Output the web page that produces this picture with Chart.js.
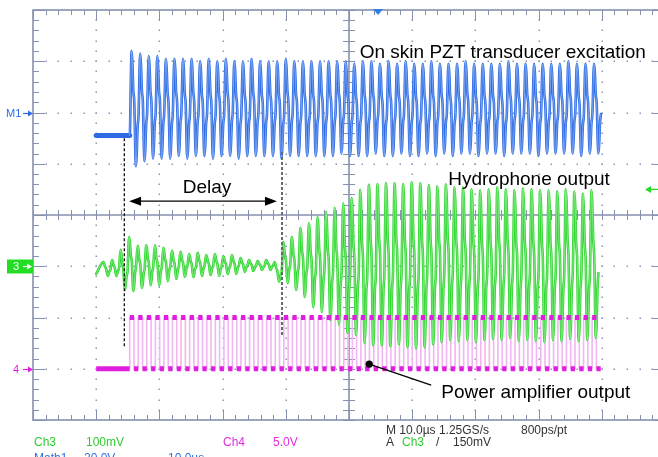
<!DOCTYPE html>
<html>
<head>
<meta charset="utf-8">
<title>Burst delay measurement</title>
<script src="https://cdn.jsdelivr.net/npm/chart.js@4.4.1/dist/chart.umd.min.js"></script>
<style>
  html, body { margin: 0; padding: 0; background: #fff; overflow: hidden; }
  canvas { display: block; }
</style>
</head>
<body>
<canvas id="scope" width="672" height="457"></canvas>
<script>
// timebase 10 us/div over 10 divisions, 8 vertical divisions
const TIME_SPAN = 100;      // us
const PERIOD = 1.355;       // us, carrier period
const RECORD_START = 10;    // us, first acquired sample
const BURST_START = 15.3;   // us, amplifier gate opens

// Math1, 20 V/div, offset +2 div: idle level and per-cycle peak / trough (V)
const mathIdle = -9;
const mathPeak = [24, 23, 22, 22, 21, 21, 21, 21, 20, 21,
                  20, 21, 20, 20, 21, 20, 20, 20, 21, 20,
                  20, 20, 20, 20, 20, 20, 19, 20, 20, 19,
                  20, 19, 20, 19, 19, 20, 19, 19, 19, 20,
                  19, 19, 19, 19, 20, 19, 19, 19, 19, 19,
                  19, 20, 19, 19, 19];
const mathTrough = [-21, -19, -18, -18, -18, -17, -18, -17, -17, -18,
                    -17, -17, -18, -17, -17, -17, -17, -18, -17, -17,
                    -17, -17, -17, -17, -16, -17, -17, -17, -16, -17,
                    -17, -16, -17, -17, -16, -17, -16, -17, -16, -16,
                    -17, -16, -16, -17, -16, -16, -16, -17, -16, -16,
                    -16, -16, -17, -16, -16];

// Ch3 hydrophone, 100 mV/div, offset -1 div: per-cycle peak / trough (mV)
const ch3FirstPeak = 11.14; // us
const ch3Peak = [8, 12, 32, 57, 40, 41, 41, 36, 30, 28,
                 24, 26, 22, 24, 20, 22, 16, 12, 10, 12,
                 8, 47, 57, 75, 84, 96, 106, 114, 123, 133,
                 149, 159, 160, 162, 162, 160, 164, 162, 158, 156,
                 160, 154, 154, 150, 148, 150, 154, 150, 148, 152,
                 150, 148, 148, 146, 150, 146, 142, 148];
const ch3Trough = [-19, -19, -46, -48, -42, -37, -37, -29, -25, -21,
                   -21, -19, -17, -19, -15, -15, -11, -9, -7, -7,
                   -30, -33, -46, -60, -80, -89, -105, -114, -130, -134,
                   -150, -154, -154, -156, -152, -158, -160, -158, -152, -148,
                   -144, -146, -144, -148, -144, -142, -144, -140, -146, -144,
                   -146, -148, -144, -146, -142, -146, -144, -140];

// Ch4 power amplifier, 5 V/div, offset -3 div
const ch4Low = 0;
const ch4High = 5;
const ch4Cycles = 55;

// one carrier cycle starting at the peak: phase and level relative to the swing
const cyclePhase = [0, 0.09, 0.2, 0.31, 0.5, 0.59, 0.7, 0.81];
const cycleLevel = [1, 0.82, 0.32, 0.12, -1, -0.82, -0.32, -0.12];

const mathDiv = v => 2 + v / 20;
const ch3Div = mv => -1 + mv / 100;
const ch4Div = v => -3 + v / 5;

function cycles(t0, peaks, troughs, toDiv) {
  const pts = [];
  peaks.forEach((pk, k) => {
    const mid = (pk + troughs[k]) / 2, half = (pk - troughs[k]) / 2;
    cyclePhase.forEach((ph, j) => {
      pts.push({ x: t0 + (k + ph) * PERIOD, y: toDiv(mid + cycleLevel[j] * half) });
    });
  });
  return pts;
}

const mathTrace = [
  { x: RECORD_START, y: mathDiv(mathIdle) },
  { x: BURST_START, y: mathDiv(mathIdle) },
  ...cycles(BURST_START + 0.3, mathPeak, mathTrough, mathDiv)
];

const ch3Trace = [
  { x: RECORD_START, y: ch3Div(-15) },
  ...cycles(ch3FirstPeak, ch3Peak, ch3Trough, ch3Div)
];

const ch4Trace = [
  { x: RECORD_START, y: ch4Div(ch4Low) },
  { x: BURST_START, y: ch4Div(ch4Low) }
];
for (let k = 0; k < ch4Cycles; k++) {
  const t = BURST_START + k * PERIOD;
  ch4Trace.push(
    { x: t, y: ch4Div(ch4High) }, { x: t + PERIOD / 2, y: ch4Div(ch4High) },
    { x: t + PERIOD / 2, y: ch4Div(ch4Low) }, { x: t + PERIOD, y: ch4Div(ch4Low) }
  );
}

const flat = ctx => ctx.p0.parsed.y === ctx.p1.parsed.y;

const BLUE = '#2d6ce4', GREEN = '#2fd62f', MAGENTA = '#e01ee0';

// dotted graticule, frame and centre cross with minor ticks
const graticule = {
  id: 'graticule',
  beforeDatasetsDraw(chart) {
    const { ctx, scales: { x, y } } = chart;
    const left = x.getPixelForValue(0), right = x.getPixelForValue(TIME_SPAN);
    const top = y.getPixelForValue(4), bottom = y.getPixelForValue(-4);
    const cx = x.getPixelForValue(TIME_SPAN / 2), cy = y.getPixelForValue(0);
    ctx.save();
    ctx.fillStyle = '#8e98b4';
    for (let i = 1; i < 10; i++) {
      if (i === 5) continue;
      const gx = Math.round(x.getPixelForValue(i * 10));
      for (let m = 1; m < 40; m++) {
        ctx.fillRect(gx - 0.5, Math.round(y.getPixelForValue(-4 + m * 0.2)) - 0.5, 1.5, 1.5);
      }
    }
    for (let j = -3; j <= 3; j++) {
      if (j === 0) continue;
      const gy = Math.round(y.getPixelForValue(j));
      for (let m = 1; m < 50; m++) {
        ctx.fillRect(Math.round(x.getPixelForValue(m * 2)) - 0.5, gy - 0.5, 1.5, 1.5);
      }
    }
    ctx.strokeStyle = '#8591ae';
    ctx.lineWidth = 1;
    ctx.beginPath();
    for (let m = 0; m <= 50; m++) {
      const tx = Math.round(x.getPixelForValue(m * 2)) + 0.5;
      const len = m % 5 === 0 ? 10 : 5;
      ctx.moveTo(tx, top); ctx.lineTo(tx, top + len);
      ctx.moveTo(tx, bottom); ctx.lineTo(tx, bottom - len);
      ctx.moveTo(tx, cy - 5); ctx.lineTo(tx, cy + 5);
    }
    for (let m = 0; m <= 40; m++) {
      const ty = Math.round(y.getPixelForValue(-4 + m * 0.2)) + 0.5;
      const len = m % 5 === 0 ? 12 : 6;
      ctx.moveTo(left, ty); ctx.lineTo(left + len, ty);
      ctx.moveTo(right, ty); ctx.lineTo(right - len, ty);
      ctx.moveTo(cx - 6, ty); ctx.lineTo(cx + 6, ty);
    }
    ctx.stroke();
    ctx.lineWidth = 1.6;
    ctx.strokeRect(left, top, right - left, bottom - top);
    ctx.beginPath();
    ctx.moveTo(cx, top); ctx.lineTo(cx, bottom);
    ctx.moveTo(left, cy); ctx.lineTo(right, cy);
    ctx.stroke();
    ctx.restore();
  }
};

// delay markers, arrow and captions
const annotations = {
  id: 'annotations',
  afterDatasetsDraw(chart) {
    const { ctx, scales: { x, y } } = chart;
    const P = (t, d) => [x.getPixelForValue(t), y.getPixelForValue(d)];
    ctx.save();

    ctx.lineWidth = 1.3;
    ctx.setLineDash([3, 2]);
    ctx.strokeStyle = '#111';
    let a = P(14.45, 1.5), b = P(14.45, -2.56);
    ctx.beginPath(); ctx.moveTo(a[0], a[1]); ctx.lineTo(b[0], b[1]); ctx.stroke();
    ctx.strokeStyle = '#6a6a6a';
    ctx.lineWidth = 2;
    a = P(39.4, 1.23); b = P(39.4, -2.38);
    ctx.beginPath(); ctx.moveTo(a[0], a[1]); ctx.lineTo(b[0], b[1]); ctx.stroke();
    ctx.setLineDash([]);

    // double-headed delay arrow
    a = P(15.2, 0.27); b = P(38.6, 0.27);
    ctx.strokeStyle = '#000'; ctx.fillStyle = '#000'; ctx.lineWidth = 1.4;
    ctx.beginPath(); ctx.moveTo(a[0] + 10, a[1]); ctx.lineTo(b[0] - 10, b[1]); ctx.stroke();
    ctx.beginPath();
    ctx.moveTo(a[0], a[1]); ctx.lineTo(a[0] + 12, a[1] - 4.5); ctx.lineTo(a[0] + 12, a[1] + 4.5);
    ctx.closePath();
    ctx.moveTo(b[0], b[1]); ctx.lineTo(b[0] - 12, b[1] - 4.5); ctx.lineTo(b[0] - 12, b[1] + 4.5);
    ctx.closePath();
    ctx.fill();

    // callout to the amplifier trace
    a = P(53.2, -2.91); b = P(63.0, -3.32);
    ctx.lineWidth = 1.2;
    ctx.beginPath(); ctx.moveTo(a[0], a[1]); ctx.lineTo(b[0], b[1]); ctx.stroke();
    ctx.beginPath(); ctx.arc(a[0], a[1], 3.6, 0, Math.PI * 2); ctx.fill();

    ctx.font = '19px "Liberation Sans", Arial, sans-serif';
    ctx.textBaseline = 'alphabetic';
    ctx.textAlign = 'left';
    [['On skin PZT transducer excitation', 51.7, 3.06],
     ['Hydrophone output', 65.7, 0.585],
     ['Power amplifier output', 64.6, -3.57],
     ['Delay', 23.7, 0.43]].forEach(([s, t, d]) => {
      const p = P(t, d);
      ctx.fillText(s, p[0], p[1]);
    });
    ctx.restore();
  },
  afterDraw(chart) {
    const { ctx, scales: { x, y } } = chart;
    ctx.save();
    const arrow = (x0, x1, yy, color) => {
      ctx.strokeStyle = color; ctx.fillStyle = color; ctx.lineWidth = 1.2;
      ctx.beginPath(); ctx.moveTo(x0, yy); ctx.lineTo(x1 - 3, yy); ctx.stroke();
      ctx.beginPath(); ctx.moveTo(x1, yy); ctx.lineTo(x1 - 5, yy - 3); ctx.lineTo(x1 - 5, yy + 3);
      ctx.closePath(); ctx.fill();
    };
    ctx.font = '11px "Liberation Sans", Arial, sans-serif';
    ctx.textBaseline = 'middle';

    // channel ground markers
    let yy = Math.round(y.getPixelForValue(2)) + 0.5;
    ctx.fillStyle = BLUE;
    ctx.fillText('M1', 6, yy + 0.5);
    arrow(23, 33, yy, BLUE);

    yy = Math.round(y.getPixelForValue(-1)) + 0.5;
    ctx.fillStyle = '#22dd22';
    ctx.fillRect(7, yy - 7, 26, 14);
    ctx.fillStyle = '#fff';
    ctx.fillText('3', 13, yy + 0.5);
    arrow(23, 32, yy, '#fff');

    yy = Math.round(y.getPixelForValue(-3)) + 0.5;
    ctx.fillStyle = MAGENTA;
    ctx.fillText('4', 13, yy + 0.5);
    arrow(23, 33, yy, MAGENTA);

    // trigger position and level
    const tx = x.getPixelForValue(54.6), top = y.getPixelForValue(4);
    ctx.fillStyle = '#2f7fe0';
    ctx.beginPath();
    ctx.moveTo(tx - 5, top - 1); ctx.lineTo(tx + 5, top - 1); ctx.lineTo(tx, top + 5);
    ctx.closePath(); ctx.fill();
    const ly = y.getPixelForValue(ch3Div(150));
    ctx.strokeStyle = '#22dd22'; ctx.fillStyle = '#22dd22'; ctx.lineWidth = 1.2;
    ctx.beginPath(); ctx.moveTo(658, ly); ctx.lineTo(649, ly); ctx.stroke();
    ctx.beginPath(); ctx.moveTo(645, ly); ctx.lineTo(651, ly - 3.5); ctx.lineTo(651, ly + 3.5);
    ctx.closePath(); ctx.fill();

    // readout
    ctx.font = '12px "Liberation Sans", Arial, sans-serif';
    ctx.textBaseline = 'alphabetic';
    [['Ch3', 34, 446, '#33cc33'], ['100mV', 86, 446, '#33cc33'],
     ['Ch4', 223, 446, '#e030e0'], ['5.0V', 273, 446, '#e030e0'],
     ['Math1', 34, 462, '#3070e0'], ['20.0V', 84, 462, '#3070e0'], ['10.0\u00b5s', 168, 462, '#3070e0'],
     ['M 10.0\u00b5s 1.25GS/s', 386, 434, '#333'], ['800ps/pt', 521, 434, '#333'],
     ['A', 386, 446, '#333'], ['Ch3', 402, 446, '#33cc33'], ['/', 436, 446, '#333'], ['150mV', 453, 446, '#333']
    ].forEach(([s, px, py, c]) => {
      ctx.fillStyle = c;
      ctx.fillText(s, px, py);
    });
    ctx.restore();
  }
};

new Chart(document.getElementById('scope'), {
  type: 'line',
  data: {
    datasets: [
      {
        label: 'Ch4 plateaus',
        data: ch4Trace,
        order: 0,
        borderWidth: 5,
        borderColor: MAGENTA,
        cubicInterpolationMode: 'default',
        tension: 0,
        borderCapStyle: 'butt',
        segment: { borderColor: ctx => flat(ctx) ? MAGENTA : 'rgba(0,0,0,0)' }
      },
      {
        label: 'Math1 core',
        data: mathTrace,
        order: 1,
        borderWidth: 0.8,
        borderColor: '#8fb2f2',
        segment: { borderColor: ctx => flat(ctx) ? BLUE : undefined }
      },
      {
        label: 'Math1',
        data: mathTrace,
        order: 2,
        borderWidth: 2.6,
        borderColor: BLUE,
        segment: { borderWidth: ctx => flat(ctx) ? 5 : undefined }
      },
      {
        label: 'Ch3 core',
        data: ch3Trace,
        order: 3,
        borderWidth: 0.8,
        borderColor: '#98ec98'
      },
      {
        label: 'Ch3',
        data: ch3Trace,
        order: 4,
        borderWidth: 2.6,
        borderColor: GREEN
      },
      {
        label: 'Ch4 edges',
        data: ch4Trace,
        order: 5,
        borderWidth: 1.6,
        borderColor: '#f2b6f2',
        cubicInterpolationMode: 'default',
        tension: 0
      }
    ]
  },
  options: {
    responsive: false,
    animation: false,
    events: [],
    parsing: false,
    layout: { padding: { left: 33, top: 10, right: 7, bottom: 37 } },
    scales: {
      x: { type: 'linear', min: 0, max: TIME_SPAN, display: false },
      y: { type: 'linear', min: -4, max: 4, display: false }
    },
    elements: {
      point: { radius: 0 },
      line: { cubicInterpolationMode: 'monotone', borderJoinStyle: 'round', borderCapStyle: 'round', fill: false }
    },
    plugins: { legend: { display: false }, tooltip: { enabled: false } }
  },
  plugins: [graticule, annotations]
});
</script>
</body>
</html>
